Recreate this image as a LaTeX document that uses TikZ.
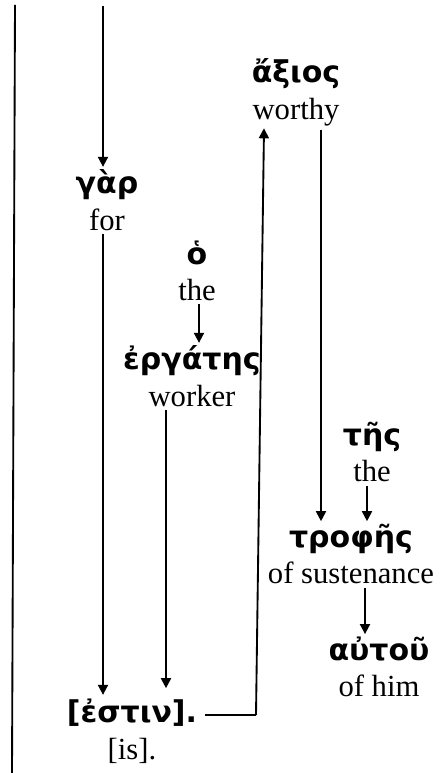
\documentclass[tikz,border=0pt]{standalone}
\usepackage{fontspec}
\setmainfont{Liberation Serif}
\newfontfamily\gkfont{DejaVu Sans}
\usetikzlibrary{arrows.meta,calc}
\newcommand{\gk}[1]{{\gkfont\bfseries\fontsize{22.5pt}{26pt}\selectfont #1}}
\tikzset{
  word/.style={align=center, inner sep=0pt, outer sep=0pt,
    font=\fontsize{23pt}{27.5pt}\selectfont},
  link/.style={line width=1.4pt},
  arr/.style={line width=1.4pt, -{Triangle[length=7.5pt,width=7.5pt]}}
}
\begin{document}
\begin{tikzpicture}[x=0.75pt,y=-0.75pt]
\useasboundingbox (0,0) rectangle (441,773);
% words
\node[word] (gar)     at (107,200) {\gk{γὰρ}\\for};
\node[word] (axios)   at (296,92)  {\gk{ἄξιος}\\worthy};
\node[word] (ho)      at (197,271) {\gk{ὁ}\\the};
\node[word] (ergates) at (192,376) {\gk{ἐργάτης}\\worker};
\node[word] (tes)     at (372,452) {\gk{τῆς}\\the};
\node[word] (trophes) at (351,554) {\gk{τροφῆς}\\of sustenance};
\node[word] (autou)   at (379,667) {\gk{αὐτοῦ}\\of him};
\node[word] (estin)   at (132,731) {\gk{[ἐστιν].}\\{[is].}};
% free ends and bends
\coordinate (lefttop) at (15,5);
\coordinate (leftbot) at (12,773);
\coordinate (gtop) at (103,6);
\coordinate (wx) at (166,0);
\coordinate (hx) at (199,0);
\coordinate (bend) at (256,715);
\coordinate (upx) at (264,0);
\coordinate (ax) at (321,0);
\coordinate (tx) at (367,0);
\coordinate (sx) at (365,0);
% connectors
\draw[link] (lefttop) -- (leftbot);
\draw[arr] (gtop) -- ([yshift=2pt]gtop |- gar.north);
\draw[arr] ([yshift=-3pt]gtop |- gar.south) -- ([yshift=3pt]gtop |- estin.north);
\draw[arr] ([yshift=-2pt]hx |- ho.south) -- ([yshift=2pt]hx |- ergates.north);
\draw[arr] ([yshift=-3pt]wx |- ergates.south) -- ([yshift=8pt]wx |- estin.north);
\draw[link] ([xshift=6pt]estin.east |- bend) -- (bend);
\draw[arr] (bend) -- ([yshift=-2pt]upx |- axios.south);
\draw[arr] ([yshift=-3pt]ax |- axios.south) -- ([yshift=2pt]ax |- trophes.north);
\draw[arr] ([yshift=-3pt]tx |- tes.south) -- ([yshift=2pt]tx |- trophes.north);
\draw[arr] ([yshift=-3pt]sx |- trophes.south) -- ([yshift=2pt]sx |- autou.north);
\end{tikzpicture}
\end{document}
